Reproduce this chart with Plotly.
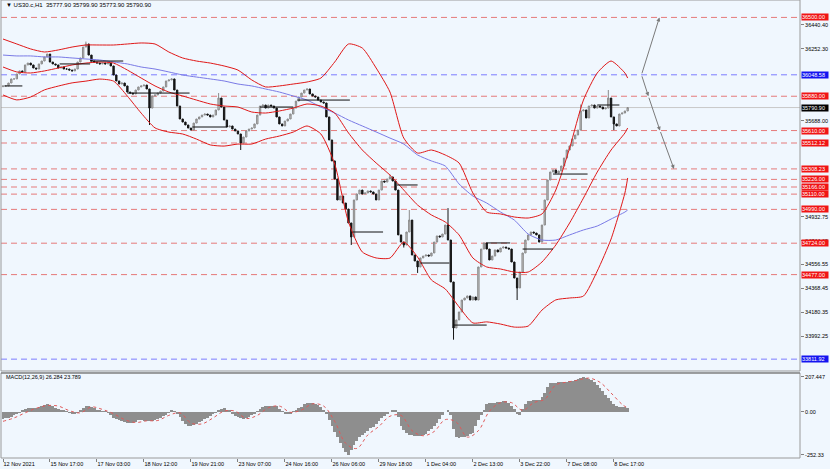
import plotly.graph_objects as go

# ---------------- data ----------------
# closes of the price bars, one every 2 hourly bars
CLOSES = [
    35961, 35961, 35984, 36016, 36016, 36055, 36079, 36071, 36126, 36141,
    36126, 36102, 36094, 36134, 36157, 36189, 36212, 36149, 36134, 36126,
    36102, 36110, 36094, 36094, 36086, 36079, 36094, 36149, 36181, 36267,
    36291, 36204, 36157, 36149, 36141, 36134, 36141, 36134, 36141, 36118,
    36047, 36000, 35976, 35984, 35961, 35913, 35905, 35898, 35929, 35953,
    35961, 35968, 35937, 35787, 35882, 35890, 35905, 35921, 35953, 36000,
    36008, 36016, 35929, 35803, 35701, 35677, 35654, 35630, 35614, 35669,
    35701, 35717, 35732, 35740, 35732, 35717, 35732, 35772, 35866, 35795,
    35693, 35638, 35646, 35622, 35607, 35583, 35512, 35559, 35607, 35622,
    35630, 35662, 35732, 35803, 35811, 35787, 35811, 35803, 35787, 35717,
    35662, 35646, 35685, 35701, 35740, 35787, 35842, 35874, 35905, 35929,
    35937, 35898, 35882, 35874, 35850, 35835, 35827, 35717, 35536, 35371,
    35229, 35064, 35095, 35040, 34993, 34883, 34773, 35064, 35111, 35142,
    35111, 35119, 35135, 35127, 35111, 35064, 35142, 35213, 35205, 35229,
    35245, 35213, 35142, 34789, 34733, 34710, 34812, 34906, 34631, 34584,
    34537, 34608, 34623, 34631, 34623, 34647, 34733, 34781, 34773, 34796,
    34867, 34749, 34419, 34057, 34120, 34183, 34277, 34293, 34309, 34277,
    34301, 34277, 34537, 34678, 34726, 34678, 34592, 34623, 34671, 34655,
    34686, 34694, 34686, 34678, 34576, 34450, 34372, 34497, 34647, 34749,
    34789, 34812, 34804, 34789, 34733, 34867, 35064, 35221, 35284, 35300,
    35276, 35292, 35331, 35394, 35457, 35489, 35544, 35575, 35614, 35764,
    35772, 35709, 35803, 35811, 35787, 35803, 35795, 35780, 35787, 35866,
    35717, 35662, 35646, 35740, 35748, 35764, 35790.9,
]
BAR_STEP = 2
FIRST_OPEN = 35955

# extra wick extremes (bar number, price)
WICK_HIGH_BARS = [30, 78, 140, 147, 161, 209, 219]
WICK_HIGH_PRICES = [36310, 35905, 35265, 34985, 35000, 35815, 35929]
WICK_LOW_BARS = [53, 86, 126, 145, 150, 163, 186, 221]
WICK_LOW_PRICES = [35654, 35457, 34710, 34690, 34490, 33965, 34277, 35614]

# indicators sampled every 10 hourly bars (+ last bar)
BAND_IDX = [10 * j for j in range(46)] + [452]
BB_UPPER = [36330, 36291, 36252, 36228, 36244, 36267, 36283, 36283, 36283, 36291,
            36299, 36291, 36228, 36181, 36157, 36141, 36118, 36086, 36008, 35953,
            35961, 35976, 35992, 36023, 36149, 36291, 36259, 36102, 35913, 35551,
            35433, 35457, 35418, 35355, 35119, 34969, 34954, 34930, 34922, 34954,
            35142, 35473, 35850, 36063, 36157, 36063, 36023]
BB_MIDDLE = [36110, 36071, 36063, 36079, 36102, 36126, 36141, 36149, 36141, 36086,
             36023, 35961, 35913, 35882, 35850, 35819, 35803, 35795, 35756, 35748,
             35764, 35787, 35819, 35803, 35748, 35591, 35457, 35355, 35260, 35142,
             35024, 34946, 34891, 34789, 34608, 34537, 34521, 34497, 34497, 34576,
             34710, 34883, 35079, 35284, 35457, 35591, 35630]
BB_LOWER = [35890, 35851, 35874, 35930, 35960, 35985, 35999, 36015, 35999, 35881,
            35747, 35631, 35598, 35583, 35543, 35497, 35488, 35504, 35504, 35543,
            35567, 35598, 35646, 35583, 35347, 34891, 34655, 34608, 34607, 34733,
            34615, 34435, 34364, 34223, 34097, 34105, 34088, 34064, 34072, 34198,
            34278, 34293, 34308, 34505, 34757, 35119, 35237]
MA_BLUE = [36204, 36197, 36197, 36189, 36189, 36181, 36173, 36165, 36149, 36134,
           36110, 36094, 36071, 36047, 36031, 36016, 36000, 35976, 35961, 35937,
           35913, 35882, 35850, 35795, 35748, 35693, 35646, 35599, 35551, 35504,
           35418, 35371, 35331, 35190, 35095, 35040, 34969, 34906, 34796, 34749,
           34749, 34789, 34828, 34859, 34914, 34969, 34985]

# MACD main (one per price bar) and signal (every 8 hourly bars + last)
MACD_MAIN = [
    -42, -38, -33, -27, -18, -10, -2, 8, 16, 21,
    22, 24, 26, 28, 36, 44, 50, 42, 34, 26,
    18, 12, 6, 1, -4, -8, -7, -5, 10, 25,
    36, 36, 28, 22, 14, 8, 5, 2, -3, -18,
    -33, -42, -48, -55, -60, -62, -64, -65, -57, -49,
    -46, -53, -55, -53, -51, -50, -42, -34, -25, -16,
    -4, 6, 5, -10, -29, -52, -72, -80, -83, -75,
    -68, -61, -53, -43, -33, -24, -14, -4, 6, 18,
    22, 14, 6, -6, -21, -30, -38, -44, -36, -28,
    -19, -10, 1, 15, 27, 33, 35, 35, 35, 34,
    20, 4, -8, -14, -7, 1, 12, 22, 32, 46,
    52, 54, 54, 46, 39, 31, 10, -12, -50, -83,
    -117, -150, -182, -210, -238, -252.33, -225, -195, -170, -150,
    -134, -122, -110, -97, -88, -72, -56, -38, -24, -12,
    0, 13, 6, -30, -81, -105, -126, -134, -137, -140,
    -143, -144, -136, -127, -115, -101, -84, -64, -42, -20,
    0, 10, -20, -100, -150, -153, -150, -145, -140, -131,
    -122, -80, -45, -18, 12, 47, 52, 54, 56, 57,
    58, 62, 62, 53, 38, 17, -10, -15, 17, 45,
    62, 66, 69, 70, 70, 90, 115, 145, 170, 172,
    173, 175, 176, 177, 178, 180, 184, 189, 195, 200,
    207.447, 201, 197, 188, 175, 160, 143, 122, 100, 80,
    62, 48, 36, 30, 28, 27, 26.284,
]
SIGNAL_IDX = [8 * m for m in range(57)] + [452]
MACD_SIGNAL = [-55, -35, -5, 22, 38, 35, 8, -5, 30, 15,
               -10, -45, -62, -52, -50, -20, -5, -65, -70, -35,
               5, 5, -38, -20, 25, 35, -2, 12, 48, 35,
               -55, -185, -215, -135, -85, -25, -20, -110, -140, -115,
               -45, -60, -148, -110, 5, 55, 55, 10, 55, 75,
               160, 176, 188, 200, 175, 112, 45, 23.789]

# horizontal levels
RED_LEVELS = [36500.00, 35880.00, 35610.00, 35512.12, 35308.23, 35226.00,
              35166.00, 35110.00, 34990.00, 34724.00, 34477.00]
BLUE_LEVELS = [36048.58, 33811.92]
CURRENT_PRICE = 35790.90
# price-scale labels that are visible (the others sit under the level boxes)
PRICE_TICKS = [36440.40, 36252.30, 35688.00, 34932.75, 34744.65,
               34556.55, 34368.45, 34180.35, 33992.25]
MACD_TICKS = [207.447, 0.0, -252.33]
MACD_TICK_TEXT = ["207.447", "0.00", "-252.33"]

# short black horizontal marks (start hour, end hour, price)
SEG_START = [1, 41, 63, 90, 137, 186, 213, 253, 285, 302, 326, 350, 376, 398, 430]
SEG_END = [14, 63, 87, 135, 162, 210, 251, 275, 300, 323, 350, 367, 398, 423, 446]
SEG_PRICE = [35961, 36134, 36157, 35905, 35638, 35795, 35850, 34812, 35182, 34568,
             34080, 34726, 34678, 35268, 35811]

# projection arrows
ARROW_UP_X = [462, 475]
ARROW_UP_Y = [36048.58, 36500.00]
ARROW_DOWN_X = [462, 467, 475.4, 485.5]
ARROW_DOWN_Y = [36048.58, 35880.00, 35610.00, 35308.23]

DATE_TICKS = [34 * i for i in range(14)]
DATE_LABELS = ["12 Nov 2021", "15 Nov 17:00", "17 Nov 03:00", "18 Nov 12:00",
               "19 Nov 21:00", "23 Nov 07:00", "24 Nov 16:00", "26 Nov 06:00",
               "29 Nov 18:00", "1 Dec 04:00", "2 Dec 13:00", "3 Dec 22:00",
               "7 Dec 08:00", "8 Dec 17:00"]

HEADER = "\u25bc US30.c,H1  35777.90 35799.90 35773.90 35790.90"
MACD_LABEL = "MACD(12,26,9) 26.284 23.789"

# ---------------- build candles ----------------
xs = [i * BAR_STEP for i in range(len(CLOSES))]
opens = [FIRST_OPEN] + CLOSES[:-1]
highs = [max(o, c) for o, c in zip(opens, CLOSES)]
lows = [min(o, c) for o, c in zip(opens, CLOSES)]
for b, p in zip(WICK_HIGH_BARS, WICK_HIGH_PRICES):
    highs[b] = max(highs[b], p)
for b, p in zip(WICK_LOW_BARS, WICK_LOW_PRICES):
    lows[b] = min(lows[b], p)

FONT = "Liberation Sans, Arial, sans-serif"
BG = "#f0f7fe"
RED = "#e01818"

fig = go.Figure()

fig.add_trace(go.Scatter(x=BAND_IDX, y=MA_BLUE, mode="lines", yaxis="y",
                         line=dict(color="#7a7ae6", width=1, shape="spline", smoothing=0.6),
                         hoverinfo="skip", showlegend=False))
for arr in (BB_UPPER, BB_MIDDLE, BB_LOWER):
    fig.add_trace(go.Scatter(x=BAND_IDX, y=arr, mode="lines", yaxis="y",
                             line=dict(color=RED, width=1, shape="spline", smoothing=0.6),
                             hoverinfo="skip", showlegend=False))

fig.add_trace(go.Candlestick(
    x=xs, open=opens, high=highs, low=lows, close=CLOSES, yaxis="y",
    increasing=dict(line=dict(color="#8a8a8a", width=1), fillcolor="#c8c8c8"),
    decreasing=dict(line=dict(color="#151515", width=1), fillcolor="#151515"),
    whiskerwidth=0, hoverinfo="skip", showlegend=False))

fig.add_trace(go.Bar(x=xs, y=MACD_MAIN, width=BAR_STEP, yaxis="y2",
                     marker=dict(color="#8e8e8e", line=dict(width=0)),
                     hoverinfo="skip", showlegend=False))
fig.add_trace(go.Scatter(x=SIGNAL_IDX, y=MACD_SIGNAL, mode="lines", yaxis="y2",
                         line=dict(color="#e05a5a", width=1, dash="dot", shape="spline"),
                         hoverinfo="skip", showlegend=False))

shapes = []
for lv in RED_LEVELS:
    shapes.append(dict(type="line", xref="paper", yref="y", x0=0, x1=1, y0=lv, y1=lv,
                       line=dict(color="#e57a7a", width=1, dash="6px,4px"), layer="below"))
for lv in BLUE_LEVELS:
    shapes.append(dict(type="line", xref="paper", yref="y", x0=0, x1=1, y0=lv, y1=lv,
                       line=dict(color="#7d7dff", width=1, dash="6px,4px"), layer="below"))
shapes.append(dict(type="line", xref="paper", yref="y", x0=0, x1=1, y0=CURRENT_PRICE,
                   y1=CURRENT_PRICE, line=dict(color="#c8c8c8", width=1), layer="below"))
for s, e, p in zip(SEG_START, SEG_END, SEG_PRICE):
    shapes.append(dict(type="line", xref="x", yref="y", x0=s, x1=e, y0=p, y1=p,
                       line=dict(color="#101010", width=1)))

MAIN_DOM = [0.18996, 1.0]
MACD_DOM = [0.0, 0.18559]
shapes.append(dict(type="rect", xref="paper", yref="paper", x0=0, x1=1,
                   y0=MAIN_DOM[0], y1=MAIN_DOM[1], line=dict(color="#9a9a9a", width=1)))
shapes.append(dict(type="rect", xref="paper", yref="paper", x0=0, x1=1,
                   y0=MACD_DOM[0], y1=MACD_DOM[1], line=dict(color="#9a9a9a", width=1)))
shapes.append(dict(type="line", xref="paper", yref="paper", x0=0, x1=1,
                   y0=MACD_DOM[1], y1=MACD_DOM[1], line=dict(color="#707070", width=1)))

ann = []
ann.append(dict(text=HEADER, xref="paper", yref="paper", x=0.004, y=0.990,
                xanchor="left", yanchor="middle", showarrow=False,
                font=dict(family=FONT, size=6, color="#000")))
ann.append(dict(text=MACD_LABEL, xref="paper", yref="paper", x=0.004, y=0.176,
                xanchor="left", yanchor="middle", showarrow=False,
                font=dict(family=FONT, size=5.5, color="#000")))


def box(val, bg):
    return dict(text=f"{val:.2f}", xref="paper", yref="y", x=1, y=val, xanchor="left",
                yanchor="middle", xshift=1, showarrow=False, bgcolor=bg, borderpad=0,
                width=26, align="left", font=dict(family=FONT, size=5.5, color="#ffffff"))


for lv in RED_LEVELS:
    ann.append(box(lv, "#f01414"))
for lv in BLUE_LEVELS:
    ann.append(box(lv, "#1414f0"))
ann.append(box(CURRENT_PRICE, "#000000"))

for i in range(1, len(ARROW_DOWN_X)):
    ann.append(dict(x=ARROW_DOWN_X[i], y=ARROW_DOWN_Y[i], ax=ARROW_DOWN_X[i - 1],
                    ay=ARROW_DOWN_Y[i - 1], xref="x", yref="y", axref="x", ayref="y",
                    showarrow=True, arrowhead=2, arrowsize=0.8, arrowwidth=1,
                    arrowcolor="#7a7a7a", text=""))
ann.append(dict(x=ARROW_UP_X[1], y=ARROW_UP_Y[1], ax=ARROW_UP_X[0], ay=ARROW_UP_Y[0],
                xref="x", yref="y", axref="x", ayref="y", showarrow=True, arrowhead=2,
                arrowsize=0.8, arrowwidth=1, arrowcolor="#7a7a7a", text=""))

fig.update_layout(
    width=830, height=469,
    margin=dict(l=1, r=30, t=0, b=11),
    paper_bgcolor=BG, plot_bgcolor=BG,
    font=dict(family=FONT, size=5.5, color="#000"),
    showlegend=False, bargap=0,
    shapes=shapes, annotations=ann,
    xaxis=dict(range=[-1.45, 576.7], domain=[0, 1], anchor="y2",
               tickvals=DATE_TICKS, ticktext=DATE_LABELS, ticks="outside", ticklen=3,
               tickcolor="#808080", ticklabelposition="outside right",
               tickfont=dict(family=FONT, size=5.5, color="#000"),
               showgrid=False, zeroline=False, showline=False,
               rangeslider=dict(visible=False)),
    yaxis=dict(domain=MAIN_DOM, range=[33718.7, 36637.0], side="right", anchor="x",
               tickvals=PRICE_TICKS, ticktext=[f"{v:.2f}" for v in PRICE_TICKS],
               ticks="outside", ticklen=3, tickcolor="#808080",
               tickfont=dict(family=FONT, size=5.5, color="#000"),
               showgrid=False, zeroline=False, showline=False),
    yaxis2=dict(domain=MACD_DOM, range=[-271.4, 230.1], side="right", anchor="x",
                tickvals=MACD_TICKS, ticktext=MACD_TICK_TEXT,
                ticks="outside", ticklen=3, tickcolor="#808080",
                tickfont=dict(family=FONT, size=5.5, color="#000"),
                showgrid=False, zeroline=False, showline=False),
)

fig.write_html(
    "out.html",
    config={"displayModeBar": False},
    post_script="document.body.style.margin='0px';document.body.style.background='"
    + BG + "';",
)
